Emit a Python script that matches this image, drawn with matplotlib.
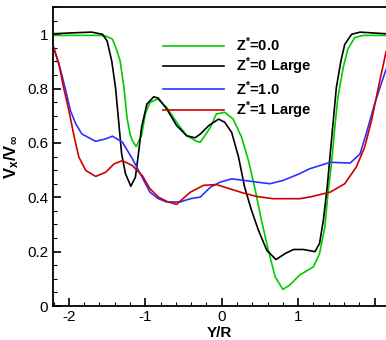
import numpy as np
import matplotlib.pyplot as plt
from matplotlib.ticker import MultipleLocator, FixedLocator, FixedFormatter

# Z*=0.0
x_z0 = [-2.21, -1.9, -1.6, -1.52, -1.43, -1.37, -1.33, -1.28, -1.24, -1.2, -1.17, -1.12,
        -1.05, -1.0, -0.94, -0.84, -0.72, -0.59, -0.46, -0.33, -0.28, -0.15, -0.07, 0.04,
        0.15, 0.26, 0.35, 0.44, 0.52, 0.61, 0.7, 0.8, 0.89, 1.02, 1.2, 1.28, 1.35, 1.39,
        1.44, 1.48, 1.52, 1.59, 1.65, 1.74, 1.85, 2.15]
y_z0 = [0.996, 0.996, 0.996, 0.994, 0.982, 0.939, 0.902, 0.804, 0.694, 0.633, 0.609, 0.587,
        0.627, 0.707, 0.749, 0.762, 0.731, 0.676, 0.627, 0.606, 0.603, 0.657, 0.707, 0.713,
        0.688, 0.621, 0.535, 0.425, 0.315, 0.205, 0.107, 0.061, 0.077, 0.114, 0.144, 0.193, 0.291, 0.413,
        0.535, 0.657, 0.768, 0.878, 0.945, 0.988, 0.996, 0.996]

# Z*=0 Large
x_z0l = [-2.21, -1.9, -1.7, -1.56, -1.5, -1.44, -1.39, -1.35, -1.31, -1.26, -1.19, -1.13,
         -1.09, -1.05, -0.98, -0.89, -0.83, -0.72, -0.59, -0.46, -0.35, -0.28, -0.17, -0.04,
         0.04, 0.13, 0.22, 0.3, 0.39, 0.48, 0.59, 0.71, 0.83, 0.94, 1.07, 1.22, 1.28, 1.33,
         1.38, 1.42, 1.46, 1.5, 1.56, 1.61, 1.7, 1.81, 2.15]
y_z0l = [1.002, 1.006, 1.008, 1.0, 0.975, 0.902, 0.804, 0.682, 0.56, 0.487, 0.441, 0.474,
         0.56, 0.657, 0.743, 0.77, 0.765, 0.725, 0.664, 0.627, 0.619, 0.633, 0.664, 0.688,
         0.676, 0.639, 0.548, 0.437, 0.352, 0.279, 0.205, 0.171, 0.193, 0.208, 0.208, 0.2, 0.23, 0.315,
         0.437, 0.56, 0.682, 0.804, 0.902, 0.963, 1.0, 1.008, 1.002]

# Z*=1.0
x_z1 = [-2.2, -2.12, -2.04, -1.98, -1.91, -1.83, -1.65, -1.52, -1.43, -1.3, -1.17, -1.02,
        -0.94, -0.83, -0.72, -0.545, -0.41, -0.28, -0.15, -0.02, 0.13, 0.3, 0.46, 0.63, 0.8,
        1.02, 1.15, 1.42, 1.68, 1.81, 1.89, 2.0, 2.09, 2.15]
y_z1 = [0.951, 0.88, 0.792, 0.719, 0.67, 0.633, 0.606, 0.615, 0.625, 0.603, 0.542, 0.462,
        0.419, 0.395, 0.383, 0.383, 0.395, 0.401, 0.437, 0.456, 0.468, 0.462, 0.456, 0.45, 0.462,
        0.487, 0.505, 0.529, 0.526, 0.56, 0.633, 0.743, 0.82, 0.87]

# Z*=1 Large
x_z1l = [-2.2, -2.13, -2.07, -2.0, -1.93, -1.87, -1.78, -1.65, -1.52, -1.41, -1.3, -1.17,
         -1.04, -0.94, -0.83, -0.72, -0.59, -0.46, -0.41, -0.24, -0.07, 0.11, 0.28, 0.46, 0.67,
         1.02, 1.15, 1.42, 1.61, 1.76, 1.87, 1.96, 2.05, 2.15]
y_z1l = [0.951, 0.89, 0.804, 0.719, 0.621, 0.548, 0.499, 0.477, 0.492, 0.523, 0.535, 0.517,
         0.48, 0.432, 0.401, 0.385, 0.374, 0.407, 0.419, 0.444, 0.447, 0.431, 0.416, 0.403, 0.395,
         0.395, 0.401, 0.419, 0.45, 0.511, 0.584, 0.682, 0.804, 0.935]

labels = ['Z$^{*}$=0.0', 'Z$^{*}$=0 Large', 'Z$^{*}$=1.0', 'Z$^{*}$=1 Large']

plt.rcParams['font.family'] = ['Liberation Sans', 'DejaVu Sans']
plt.rcParams['mathtext.fontset'] = 'custom'
plt.rcParams['mathtext.rm'] = 'Liberation Sans:bold'
plt.rcParams['mathtext.bf'] = 'Liberation Sans:bold'
plt.rcParams['mathtext.it'] = 'Liberation Sans:bold'

fig = plt.figure(figsize=(3.86, 3.40), dpi=100)
ax = fig.add_axes([0.137, 0.1, 0.863, 0.879])

ax.plot(x_z0, y_z0, color='#00cc00', lw=1.2, label=labels[0])
ax.plot(x_z0l, y_z0l, color='black', lw=1.2, label=labels[1])
ax.plot(x_z1, y_z1, color='#3030ff', lw=1.2, label=labels[2])
ax.plot(x_z1l, y_z1l, color='#cc0000', lw=1.2, label=labels[3])

ax.set_xlim(-2.21, 2.15)
ax.set_ylim(0, 1.1)
ax.spines['right'].set_visible(False)
for s in ['left', 'bottom', 'top']:
    ax.spines[s].set_linewidth(1.3)

ax.xaxis.set_major_locator(FixedLocator([-2, -1, 0, 1, 2]))
ax.xaxis.set_major_formatter(FixedFormatter(['-2', '-1', '0', '1', '']))
ax.xaxis.set_minor_locator(MultipleLocator(0.2))
ax.set_yticks([0, 0.2, 0.4, 0.6, 0.8, 1.0])
ax.set_yticklabels(['0', '0.2', '0.4', '0.6', '0.8', '1'])
ax.yaxis.set_minor_locator(MultipleLocator(0.05))
ax.tick_params(which='major', direction='in', length=6, width=1.2, labelsize=11, top=False, right=False)
ax.tick_params(which='minor', direction='in', length=3, width=0.8, top=False, right=False)
ax.tick_params(axis='x', pad=3)

ax.set_xlabel('Y/R', fontsize=11, fontweight='bold', labelpad=1)
ax.set_ylabel(r'$\mathbf{V_x/V_\infty}$', fontsize=12, labelpad=4)

ax.legend(loc='upper left', bbox_to_anchor=(0.29, 0.95), frameon=False, handlelength=4.2,
          handletextpad=0.8, labelspacing=0.12, prop={'weight': 'bold', 'size': 10.5})

fig.savefig('out.png', dpi=100)
